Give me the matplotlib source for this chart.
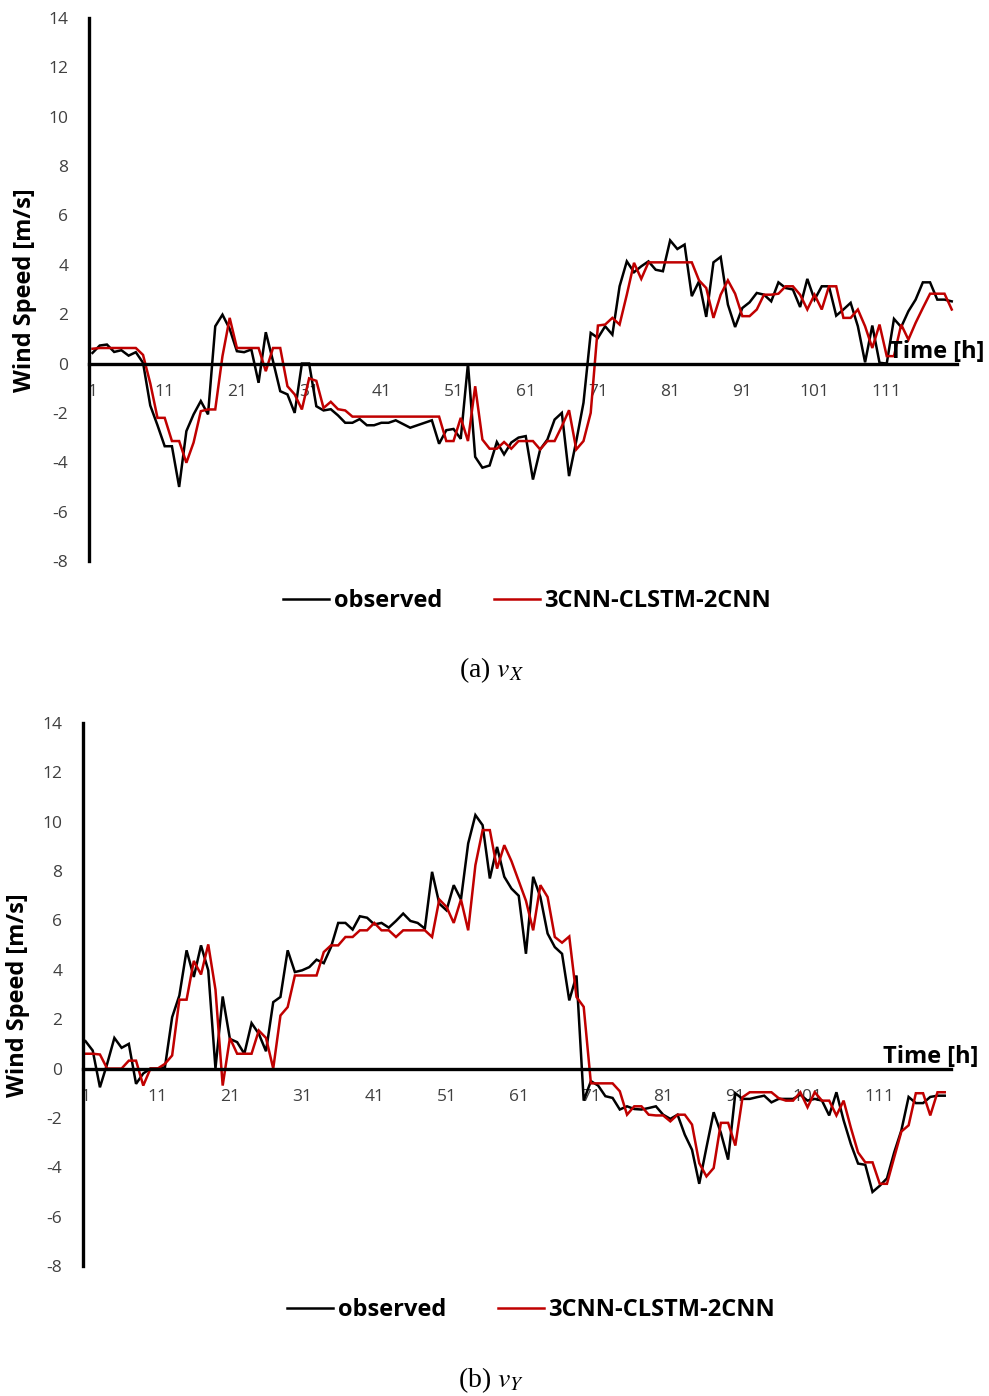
import matplotlib
matplotlib.use("Agg")
import matplotlib.pyplot as plt

# ---------------- data ----------------
hours = list(range(1, 121))
x_ticks = [1, 11, 21, 31, 41, 51, 61, 71, 81, 91, 101, 111]
y_ticks = list(range(-8, 15, 2))

vx_observed = [
    0.43, 0.73, 0.77, 0.47, 0.54, 0.32, 0.46, 0.03, -1.7, -2.5,
    -3.35, -3.35, -5.0, -2.74, -2.06, -1.52, -2.06, 1.51, 1.98, 1.4,
    0.5, 0.46, 0.57, -0.78, 1.27, 0.1, -1.12, -1.25, -2.0, 0.0,
    0.0, -1.73, -1.9, -1.85, -2.1, -2.4, -2.4, -2.25, -2.5, -2.5,
    -2.4, -2.4, -2.3, -2.45, -2.6, -2.5, -2.4, -2.3, -3.25, -2.7,
    -2.65, -3.05, 0.0, -3.78, -4.22, -4.13, -3.18, -3.68, -3.2, -3.0,
    -2.94, -4.7, -3.48, -3.08, -2.27, -2.0, -4.56, -3.14, -1.59, 1.24,
    1.04, 1.51, 1.17, 3.13, 4.14, 3.7, 3.94, 4.14, 3.8, 3.74,
    4.99, 4.64, 4.82, 2.73, 3.33, 1.89, 4.1, 4.32, 2.39, 1.48,
    2.25, 2.48, 2.86, 2.79, 2.52, 3.29, 3.06, 3.0, 2.29, 3.43,
    2.59, 3.13, 3.13, 1.94, 2.19, 2.46, 1.51, 0.05, 1.54, 0.03,
    0.0, 1.81, 1.48, 2.12, 2.59, 3.29, 3.29, 2.59, 2.59, 2.52,
]
vx_predicted = [
    0.6, 0.63, 0.63, 0.63, 0.63, 0.63, 0.63, 0.35, -0.8, -2.2,
    -2.2, -3.14, -3.14, -4.02, -3.2, -1.93, -1.86, -1.86, 0.3, 1.85,
    0.63, 0.63, 0.63, 0.63, -0.31, 0.63, 0.63, -0.92, -1.25, -1.86,
    -0.6, -0.7, -1.8, -1.55, -1.85, -1.9, -2.15, -2.15, -2.15, -2.15,
    -2.15, -2.15, -2.15, -2.15, -2.15, -2.15, -2.15, -2.15, -2.15, -3.14,
    -3.14, -2.2, -3.14, -0.92, -3.08, -3.45, -3.45, -3.18, -3.45, -3.14,
    -3.14, -3.14, -3.48, -3.14, -3.14, -2.54, -1.89, -3.48, -3.14, -2.0,
    1.54, 1.58, 1.85, 1.58, 2.79, 4.08, 3.43, 4.1, 4.1, 4.1,
    4.1, 4.1, 4.1, 4.1, 3.37, 3.06, 1.85, 2.79, 3.37, 2.83,
    1.92, 1.92, 2.19, 2.79, 2.79, 2.83, 3.13, 3.13, 2.79, 2.19,
    2.79, 2.19, 3.13, 3.13, 1.85, 1.85, 2.19, 1.51, 0.63, 1.58,
    0.3, 0.3, 1.58, 0.97, 1.65, 2.25, 2.83, 2.83, 2.83, 2.19,
]
vy_observed = [
    1.11, 0.73, -0.76, 0.19, 1.24, 0.84, 1.0, -0.62, -0.2, 0.0,
    0.0, 0.05, 2.08, 2.96, 4.79, 3.71, 4.99, 3.98, 0.0, 2.92,
    1.2, 1.07, 0.6, 1.84, 1.41, 0.7, 2.69, 2.9, 4.79, 3.91,
    3.98, 4.11, 4.41, 4.27, 4.92, 5.9, 5.9, 5.63, 6.17, 6.11,
    5.84, 5.9, 5.71, 5.98, 6.28, 5.98, 5.9, 5.67, 7.97, 6.68,
    6.41, 7.43, 6.85, 9.12, 10.27, 9.86, 7.7, 8.98, 7.77, 7.29,
    7.0, 4.65, 7.77, 6.95, 5.47, 4.92, 4.65, 2.76, 3.77, -1.3,
    -0.51, -0.69, -1.12, -1.19, -1.66, -1.53, -1.64, -1.66, -1.6, -1.53,
    -1.87, -2.04, -1.87, -2.68, -3.29, -4.67, -3.2, -1.77, -2.61, -3.69,
    -1.0, -1.23, -1.23, -1.16, -1.1, -1.37, -1.23, -1.23, -1.23, -1.06,
    -1.3, -1.23, -1.3, -1.9, -0.96, -2.1, -3.06, -3.85, -3.9, -5.0,
    -4.75, -4.45, -3.4, -2.5, -1.15, -1.4, -1.4, -1.15, -1.1, -1.1,
]
vy_predicted = [
    0.6, 0.6, 0.57, 0.0, 0.0, 0.0, 0.32, 0.32, -0.69, 0.0,
    0.0, 0.19, 0.53, 2.79, 2.79, 4.36, 3.81, 5.03, 3.2, -0.69,
    1.24, 0.6, 0.6, 0.6, 1.54, 1.24, 0.0, 2.15, 2.49, 3.77,
    3.77, 3.77, 3.77, 4.72, 4.99, 4.99, 5.33, 5.33, 5.6, 5.6,
    5.9, 5.6, 5.6, 5.33, 5.6, 5.6, 5.6, 5.6, 5.33, 6.85,
    6.55, 5.9, 6.85, 5.6, 8.24, 9.66, 9.66, 8.1, 9.05, 8.4,
    7.6, 6.8, 5.6, 7.43, 6.95, 5.33, 5.1, 5.35, 2.9, 2.5,
    -0.6, -0.6, -0.6, -0.6, -0.92, -1.87, -1.53, -1.53, -1.87, -1.9,
    -1.9, -2.14, -1.87, -1.87, -2.27, -3.83, -4.37, -4.03, -2.2, -2.2,
    -3.12, -1.16, -0.96, -0.96, -0.96, -0.96, -1.2, -1.3, -1.3, -0.96,
    -1.57, -0.96, -1.3, -1.3, -1.9, -1.3, -2.4, -3.4, -3.8, -3.8,
    -4.67, -4.67, -3.6, -2.55, -2.3, -1.0, -1.0, -1.9, -0.96, -0.96,
]

series_labels = ["observed", "3CNN-CLSTM-2CNN"]
captions = [r"(a) $v_X$", r"(b) $v_Y$"]

# ---------------- style ----------------
plt.rcParams["font.family"] = ["Open Sans", "DejaVu Sans"]
plt.rcParams["mathtext.fontset"] = "stix"
plt.rcParams["axes.unicode_minus"] = False

W, H = 989, 1396
fig = plt.figure(figsize=(W / 100, H / 100), dpi=100)
fig.patch.set_facecolor("white")

OBS_COLOR = "#000000"
PRED_COLOR = "#C00000"
TICK_COLOR = "#404040"


def add_panel(left, right, top, bottom, xlim, obs, pred, time_xy, ylab_xy,
              legend_xy, caption_xy, caption):
    ax = fig.add_axes([left / W, 1 - bottom / H, (right - left) / W,
                       (bottom - top) / H])
    ax.plot(hours, obs, color=OBS_COLOR, lw=1.8, label=series_labels[0],
            solid_joinstyle="miter")
    ax.plot(hours, pred, color=PRED_COLOR, lw=1.8, label=series_labels[1],
            solid_joinstyle="miter")
    ax.set_xlim(*xlim)
    ax.set_ylim(-8, 14)
    ax.set_yticks(y_ticks)
    ax.set_xticks(x_ticks)
    ax.set_xticklabels([str(t) for t in x_ticks])
    for s in ("top", "right"):
        ax.spines[s].set_visible(False)
    ax.spines["bottom"].set_position(("data", 0))
    ax.spines["left"].set_linewidth(2.4)
    ax.spines["bottom"].set_linewidth(2.4)
    ax.spines["left"].set_zorder(3)
    ax.spines["bottom"].set_zorder(3)
    ax.tick_params(axis="y", length=0, pad=15, labelsize=12.5,
                   labelcolor=TICK_COLOR)
    ax.tick_params(axis="x", length=0, pad=15, labelsize=12.5,
                   labelcolor=TICK_COLOR)
    ax.patch.set_alpha(0)

    fig.text(time_xy[0] / W, 1 - time_xy[1] / H, "Time [h]",
             ha="left", va="center", fontsize=17, fontweight="bold",
             zorder=5)
    fig.text(ylab_xy[0] / W, 1 - ylab_xy[1] / H, "Wind Speed [m/s]",
             ha="center", va="center", rotation=90, fontsize=17,
             fontweight="bold")
    handles, labels = ax.get_legend_handles_labels()
    fig.legend(handles, labels, loc="center",
               bbox_to_anchor=(legend_xy[0] / W, 1 - legend_xy[1] / H),
               ncol=2, frameon=False, handlelength=1.95, handletextpad=0.2,
               columnspacing=2.2,
               prop={"family": ["Open Sans", "DejaVu Sans"],
                     "weight": "bold", "size": 17})
    fig.text(caption_xy[0] / W, 1 - caption_xy[1] / H, caption,
             ha="center", va="center", fontsize=20,
             family=["Liberation Serif", "DejaVu Serif"])
    return ax


add_panel(89, 957, 18, 561, (0.515, 120.73), vx_observed, vx_predicted,
          (889, 352), (25, 290), (527, 601), (491, 670), captions[0])
add_panel(83, 951, 723, 1266, (0.654, 120.87), vy_observed, vy_predicted,
          (883, 1057), (18, 995), (531, 1310), (491, 1380), captions[1])

fig.savefig("out.png", dpi=100, facecolor="white")
